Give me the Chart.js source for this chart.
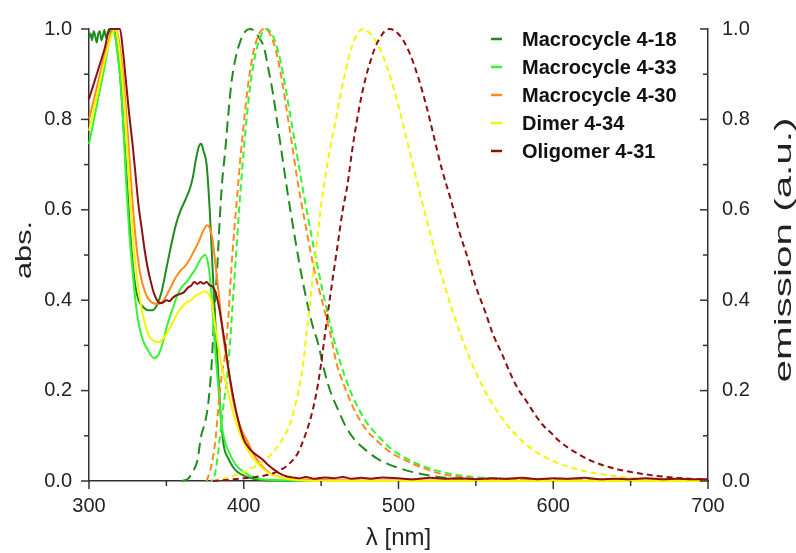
<!DOCTYPE html>
<html><head><meta charset="utf-8">
<script src="https://cdn.jsdelivr.net/npm/chart.js@4.4.1/dist/chart.umd.min.js"></script>
<style>html,body{margin:0;padding:0;background:#fff}#wrap{width:796px;height:553px}</style>
</head><body><div id="wrap"><canvas id="c" width="796" height="553"></canvas></div>
<script>
// ---- data ----
const seriesNames = ['Macrocycle 4-18','Macrocycle 4-33','Macrocycle 4-30','Dimer 4-34','Oligomer 4-31'];
const seriesColors = ['#1e8c1e','#33f533','#ff8a1e','#f5f500','#8c1010'];
const emissionDash = [[11,6],[7,4],[7,4],[6,4],[6,4]];

// absorption [wavelength nm, abs]
const abs418 = [[300,0.98],[301,0.99],[302,0.975],[303,0.995],[304,0.985],[305,0.97],[306,0.99],[307,0.995],[308,0.975],[309,0.985],[310,0.998],[311,0.98],[312,0.99],[313,1.0],[314,0.99],[315,0.995],[316,1.0],[317,0.985],[318,0.96],[320,0.9],[322,0.8],[324,0.69],[326,0.58],[328,0.49],[330,0.43],[332,0.40],[335,0.385],[338,0.378],[341,0.378],[344,0.39],[347,0.42],[350,0.47],[353,0.52],[356,0.565],[359,0.597],[362,0.62],[365,0.645],[367,0.67],[369,0.71],[371,0.74],[372.5,0.746],[374,0.73],[376,0.70],[378,0.6],[380,0.46],[381.5,0.36],[383,0.27],[385,0.15],[387,0.08],[390,0.05],[393,0.031],[396,0.02],[400,0.012],[405,0.006],[410,0.003],[420,0.001],[450,0],[700,0]];
const abs433 = [[300,0.745],[305,0.83],[310,0.915],[315.5,1.0],[318,0.96],[320,0.9],[322,0.8],[324,0.66],[326,0.55],[328,0.47],[330,0.40],[332,0.35],[335,0.31],[338,0.29],[342,0.272],[345,0.28],[348,0.31],[351,0.35],[354,0.38],[357,0.41],[360,0.43],[363,0.44],[366,0.455],[369,0.47],[372,0.49],[375,0.50],[377,0.48],[379,0.42],[380.5,0.34],[382,0.27],[383.5,0.21],[385.5,0.13],[388,0.085],[391,0.06],[395,0.035],[400,0.02],[405,0.01],[410,0.005],[420,0.002],[450,0],[700,0]];
const abs430 = [[300,0.80],[305,0.87],[310,0.94],[315,0.995],[317,1.0],[319,0.98],[321,0.93],[323,0.86],[325,0.77],[327,0.67],[329,0.58],[331,0.51],[333,0.46],[336,0.42],[339,0.40],[343,0.392],[347,0.395],[350,0.41],[353,0.43],[356,0.45],[359,0.465],[362,0.475],[365,0.49],[368,0.51],[371,0.53],[374,0.555],[376.5,0.566],[378,0.56],[380,0.53],[382,0.47],[384,0.41],[386,0.34],[388,0.29],[390,0.25],[393,0.18],[396,0.14],[399,0.11],[402,0.09],[406,0.062],[410,0.04],[414,0.025],[418,0.015],[424,0.008],[435,0.004],[450,0.002],[500,0.001],[700,0]];
const abs434 = [[300,0.775],[305,0.85],[310,0.93],[315,0.99],[317,1.0],[319,0.97],[321,0.91],[323,0.83],[325,0.72],[327,0.61],[329,0.52],[331,0.45],[333,0.40],[336,0.35],[339,0.32],[342,0.31],[345,0.307],[348,0.315],[351,0.33],[354,0.35],[357,0.37],[360,0.385],[363,0.395],[366,0.40],[369,0.41],[372,0.415],[375,0.42],[377,0.415],[379,0.40],[380,0.38],[383,0.31],[386,0.25],[389,0.21],[391,0.18],[395,0.13],[400,0.085],[405,0.055],[410,0.035],[415,0.02],[420,0.012],[430,0.004],[450,0],[700,0]];
const abs431 = [[300,0.845],[305,0.90],[310,0.955],[313.5,1.0],[320,1.0],[322,0.95],[324,0.88],[326,0.81],[328,0.75],[330,0.68],[332,0.61],[334,0.56],[336,0.51],[338,0.47],[340,0.44],[342,0.415],[344,0.40],[346,0.393],[348,0.395],[350,0.40],[352,0.398],[354,0.405],[356,0.41],[358,0.413],[360,0.415],[362,0.42],[364,0.428],[366,0.432],[368,0.44],[370,0.436],[372,0.44],[374,0.437],[376,0.44],[378,0.433],[380,0.43],[382,0.415],[384,0.385],[386,0.345],[388,0.30],[390,0.25],[393,0.19],[396,0.14],[400,0.092],[404,0.07],[408,0.058],[412,0.048],[416,0.035],[420,0.024],[424,0.015],[428,0.01],[432,0.008],[436,0.006],[440,0.009],[446,0.005],[452,0.008],[458,0.006],[464,0.009],[470,0.005],[476,0.007],[482,0.005],[490,0.008],[500,0.006],[510,0.004],[520,0.007],[530,0.005],[540,0.006],[550,0.004],[560,0.006],[570,0.005],[580,0.007],[590,0.004],[600,0.006],[610,0.005],[620,0.007],[630,0.004],[640,0.005],[650,0.004],[660,0.006],[670,0.004],[680,0.005],[690,0.004],[700,0.004]];

// emission [wavelength nm, normalized emission]
const em418 = [[360,0],[364,0.005],[367,0.02],[370,0.045],[372.5,0.1],[375,0.13],[377,0.17],[379,0.245],[381,0.37],[383,0.48],[384.5,0.58],[386,0.66],[388,0.73],[390,0.81],[392,0.88],[395,0.94],[398,0.975],[401,0.995],[404,1.0],[407,0.995],[410,0.98],[413,0.96],[416,0.91],[419,0.855],[422,0.785],[425,0.715],[428,0.645],[432,0.56],[436,0.48],[440,0.41],[444,0.35],[448,0.305],[452,0.245],[456,0.198],[460,0.165],[466,0.12],[472,0.09],[479,0.068],[486,0.05],[493,0.038],[501,0.028],[510,0.019],[520,0.012],[530,0.007],[545,0.004],[570,0.002],[620,0.001],[700,0]];
const em433 = [[379,0],[381,0.01],[383,0.05],[385,0.11],[387,0.17],[389,0.22],[391,0.3],[393,0.4],[395,0.5],[397,0.6],[399,0.69],[401,0.77],[403,0.84],[405,0.895],[407,0.935],[409,0.965],[411,0.985],[413,0.997],[415,1.0],[418,0.99],[421,0.965],[424,0.925],[427,0.87],[430,0.81],[433,0.75],[436,0.69],[439,0.63],[442,0.575],[445,0.52],[448,0.47],[451,0.42],[455,0.36],[460,0.29],[465,0.235],[470,0.19],[475,0.155],[480,0.127],[488,0.095],[495,0.072],[505,0.05],[515,0.034],[527,0.021],[540,0.012],[560,0.006],[600,0.002],[700,0]];
const em430 = [[376,0],[378,0.02],[380,0.05],[382,0.1],[384,0.18],[386,0.24],[388,0.28],[390,0.36],[392,0.47],[394,0.56],[396,0.64],[398,0.72],[400,0.79],[402,0.855],[404,0.905],[406,0.945],[408,0.972],[410,0.99],[413,1.0],[416,0.995],[419,0.972],[422,0.935],[425,0.88],[428,0.815],[431,0.75],[434,0.68],[437,0.62],[440,0.565],[443,0.51],[446,0.46],[449,0.42],[452,0.38],[456,0.325],[460,0.26],[465,0.21],[470,0.168],[475,0.135],[480,0.11],[488,0.083],[495,0.063],[505,0.045],[515,0.03],[527,0.016],[540,0.009],[560,0.004],[600,0.001],[700,0]];
const em434 = [[380,0],[390,0.008],[400,0.02],[410,0.038],[418,0.06],[424,0.087],[430,0.127],[434,0.178],[438,0.25],[441,0.34],[444,0.43],[447,0.52],[450,0.61],[453,0.68],[456,0.74],[459,0.79],[462,0.845],[465,0.895],[468,0.94],[471,0.972],[474,0.992],[477,1.0],[480,0.995],[485,0.975],[490,0.94],[495,0.89],[500,0.83],[505,0.76],[510,0.69],[515,0.62],[520,0.555],[525,0.49],[530,0.43],[535,0.375],[540,0.325],[545,0.28],[550,0.24],[555,0.205],[560,0.175],[565,0.148],[570,0.125],[575,0.105],[580,0.088],[590,0.062],[600,0.044],[610,0.031],[620,0.022],[635,0.013],[650,0.007],[670,0.003],[700,0.001]];
const em431 = [[380,0],[390,0.003],[400,0.006],[410,0.01],[419,0.017],[425,0.027],[430,0.04],[435,0.062],[438.5,0.09],[442,0.125],[445,0.163],[448,0.215],[450,0.26],[452.5,0.325],[455.5,0.4],[458,0.46],[461,0.53],[464,0.6],[467,0.655],[470,0.73],[473,0.795],[476,0.85],[479,0.895],[482,0.93],[485,0.96],[488,0.98],[491,0.995],[494,1.0],[498,0.995],[503,0.975],[508,0.94],[513,0.89],[518,0.83],[523,0.76],[528,0.69],[534,0.62],[539,0.555],[545,0.49],[550,0.43],[556,0.375],[561,0.325],[567,0.28],[572,0.24],[577,0.205],[583,0.175],[588,0.148],[593,0.125],[599,0.105],[604,0.088],[615,0.062],[625,0.044],[636,0.031],[647,0.022],[663,0.013],[679,0.007],[700,0.003]];

const xMajorTicks = [300,400,500,600,700];
const xMinorTicks = [350,450,550,650];
const yMajorTicks = [0,0.2,0.4,0.6,0.8,1.0];
const yMinorTicks = [0.1,0.3,0.5,0.7,0.9];

const absSeries = [abs418, abs433, abs430, abs434, abs431];
const emSeries = [em418, em433, em430, em434, em431];

// ---- chart ----
const FONT = "'Liberation Sans', Arial, sans-serif";
const datasets = [];
for (let i = seriesNames.length - 1; i >= 0; i--) {
  datasets.push({
    label: seriesNames[i] + ' abs', data: absSeries[i].map(p => ({x: p[0], y: p[1]})),
    borderColor: seriesColors[i], borderWidth: 2, pointRadius: 0, fill: false,
    cubicInterpolationMode: 'monotone', yAxisID: 'y', clip: false
  });
  datasets.push({
    label: seriesNames[i] + ' emission', data: emSeries[i].map(p => ({x: p[0], y: p[1]})),
    borderColor: seriesColors[i], borderWidth: 2, pointRadius: 0, fill: false,
    borderDash: emissionDash[i], borderDashOffset: i === 1 ? 5 : 0,
    cubicInterpolationMode: 'monotone', yAxisID: 'y1', clip: false
  });
}

const decor = {
  id: 'decor',
  afterDraw(chart) {
    const ctx = chart.ctx, a = chart.chartArea;
    const sx = chart.scales.x, sy = chart.scales.y, sy1 = chart.scales.y1;
    ctx.save();
    ctx.strokeStyle = '#333'; ctx.lineWidth = 1.5;
    const seg = (x1, y1, x2, y2) => { ctx.beginPath(); ctx.moveTo(x1, y1); ctx.lineTo(x2, y2); ctx.stroke(); };
    xMajorTicks.forEach(v => { const p = sx.getPixelForValue(v); seg(p, a.bottom, p, a.bottom + 8); });
    xMinorTicks.forEach(v => { const p = sx.getPixelForValue(v); seg(p, a.bottom, p, a.bottom + 5); });
    yMajorTicks.forEach(v => { const p = sy.getPixelForValue(v); seg(a.left - 8, p, a.left, p); });
    yMinorTicks.forEach(v => { const p = sy.getPixelForValue(v); seg(a.left - 5, p, a.left, p); });
    yMajorTicks.forEach(v => { const p = sy1.getPixelForValue(v); seg(a.right - 8, p, a.right, p); });
    yMinorTicks.forEach(v => { const p = sy1.getPixelForValue(v); seg(a.right - 5, p, a.right, p); });

    // axis titles (vertical)
    ctx.fillStyle = '#222';
    ctx.textAlign = 'center'; ctx.textBaseline = 'middle';
    const vtitle = (txt, cx, cy, size, len) => {
      ctx.save();
      ctx.font = size + 'px ' + FONT;
      const w = ctx.measureText(txt).width;
      ctx.translate(cx, cy); ctx.rotate(-Math.PI / 2); ctx.scale(len / w, 1);
      ctx.fillText(txt, 0, 0);
      ctx.restore();
    };
    vtitle('abs.', 25, 250, 22, 58);
    vtitle('emission (a.u.)', 784, 250, 24, 265);

    // legend
    const rowY0 = 39, rowDy = 28;
    ctx.font = 'bold 20px ' + FONT;
    ctx.textAlign = 'left'; ctx.textBaseline = 'middle';
    seriesNames.forEach((name, i) => {
      const yy = rowY0 + i * rowDy;
      ctx.strokeStyle = seriesColors[i]; ctx.lineWidth = 2.5;
      seg(491, yy, 502, yy);
      ctx.fillStyle = '#111';
      ctx.fillText(name, 522, yy + 1);
    });
    ctx.restore();
  }
};

new Chart(document.getElementById('c'), {
  type: 'line',
  data: { datasets },
  plugins: [decor],
  options: {
    responsive: false, animation: false, devicePixelRatio: 1,
    layout: { padding: { top: 26, left: 0, right: 0, bottom: 0 } },
    plugins: { legend: { display: false }, tooltip: { enabled: false } },
    scales: {
      x: {
        type: 'linear', min: 300, max: 700, position: 'bottom',
        grid: { display: false, drawTicks: false },
        border: { display: true, color: '#333', width: 1.5 },
        ticks: { stepSize: 100, color: '#222', font: { size: 20, family: FONT }, padding: 13 },
        title: { display: true, text: 'λ [nm]', color: '#222', font: { size: 24, family: FONT }, padding: { top: 0, bottom: 0 } },
        afterFit(s) { s.height = 72; }
      },
      y: {
        type: 'linear', min: 0, max: 1, position: 'left',
        grid: { display: false, drawTicks: false },
        border: { display: true, color: '#333', width: 1.5 },
        ticks: { stepSize: 0.2, color: '#222', font: { size: 20, family: FONT }, padding: 17, callback: v => v.toFixed(1) },
        afterFit(s) { s.width = 89; }
      },
      y1: {
        type: 'linear', min: 0, max: 1, position: 'right',
        grid: { display: false, drawTicks: false },
        border: { display: true, color: '#333', width: 1.5 },
        ticks: { stepSize: 0.2, color: '#222', font: { size: 20, family: FONT }, padding: 14, callback: v => v.toFixed(1) },
        afterFit(s) { s.width = 88; }
      }
    }
  }
});
</script></body></html>
